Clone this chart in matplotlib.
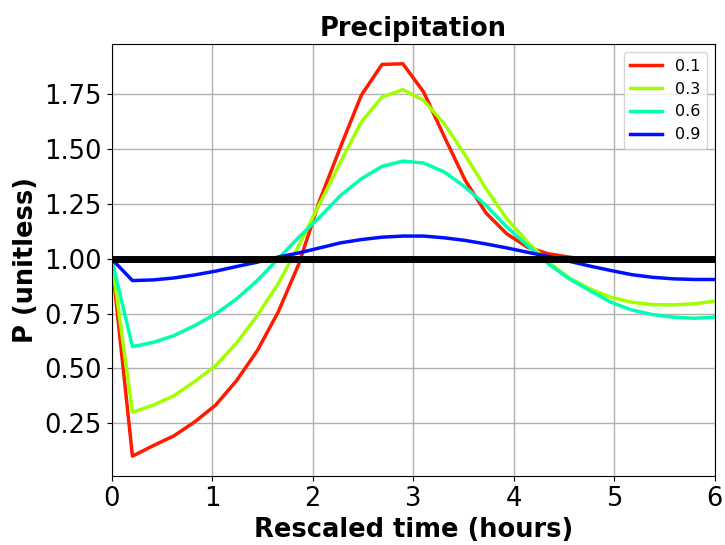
import numpy as np
import matplotlib
matplotlib.use('Agg')
import matplotlib.pyplot as plt

# rescaled time, 30 samples over 6 hours
time_h = np.linspace(0, 6, 30)

labels = ['0.1', '0.3', '0.6', '0.9']
colors = ['#ff1a00', '#a0ff00', '#00ffb0', '#0010ff']

p_01 = [1.0, 0.10, 0.148, 0.193, 0.257, 0.333, 0.444, 0.581, 0.756, 0.977,
        1.266, 1.51, 1.746, 1.887, 1.890, 1.761, 1.556, 1.358, 1.209, 1.114,
        1.053, 1.023, 1.008, 0.995, 0.993, 0.992, 0.991, 0.991, 0.991, 0.991]
p_03 = [1.0, 0.30, 0.333, 0.376, 0.441, 0.513, 0.615, 0.741, 0.886, 1.061,
        1.251, 1.441, 1.624, 1.738, 1.772, 1.723, 1.616, 1.472, 1.320, 1.183,
        1.076, 0.985, 0.913, 0.863, 0.825, 0.802, 0.791, 0.790, 0.795, 0.807]
p_06 = [1.0, 0.600, 0.619, 0.650, 0.696, 0.749, 0.817, 0.901, 1.0, 1.099,
        1.190, 1.289, 1.365, 1.422, 1.446, 1.437, 1.396, 1.327, 1.244, 1.145,
        1.061, 0.977, 0.909, 0.855, 0.802, 0.767, 0.746, 0.734, 0.729, 0.734]
p_09 = [1.0, 0.901, 0.904, 0.913, 0.927, 0.944, 0.965, 0.985, 1.008, 1.027,
        1.050, 1.073, 1.088, 1.099, 1.104, 1.104, 1.096, 1.084, 1.068, 1.050,
        1.030, 1.011, 0.989, 0.967, 0.947, 0.928, 0.916, 0.909, 0.906, 0.906]

series = [p_01, p_03, p_06, p_09]

fig = plt.figure(figsize=(7.25, 5.45), dpi=100)
ax = fig.add_axes([0.154, 0.127, 0.832, 0.792])

for vals, lab, col in zip(series, labels, colors):
    ax.plot(time_h, vals, color=col, lw=2.5, label=lab, zorder=2)
ax.axhline(1.0, color='black', lw=5, zorder=3)

ax.set_xlim(0, 6)
ax.grid(True, color='#b0b0b0', lw=1)
ax.set_axisbelow(True)
ax.tick_params(labelsize=18.5)
ax.set_xlabel('Rescaled time (hours)', fontsize=18.5, fontweight='bold')
ax.set_ylabel('P (unitless)', fontsize=18.5, fontweight='bold')
ax.set_title('Precipitation', fontsize=18.5, fontweight='bold')
ax.legend(loc='upper right', fontsize=11.5)

fig.savefig('out.png', dpi=100)
